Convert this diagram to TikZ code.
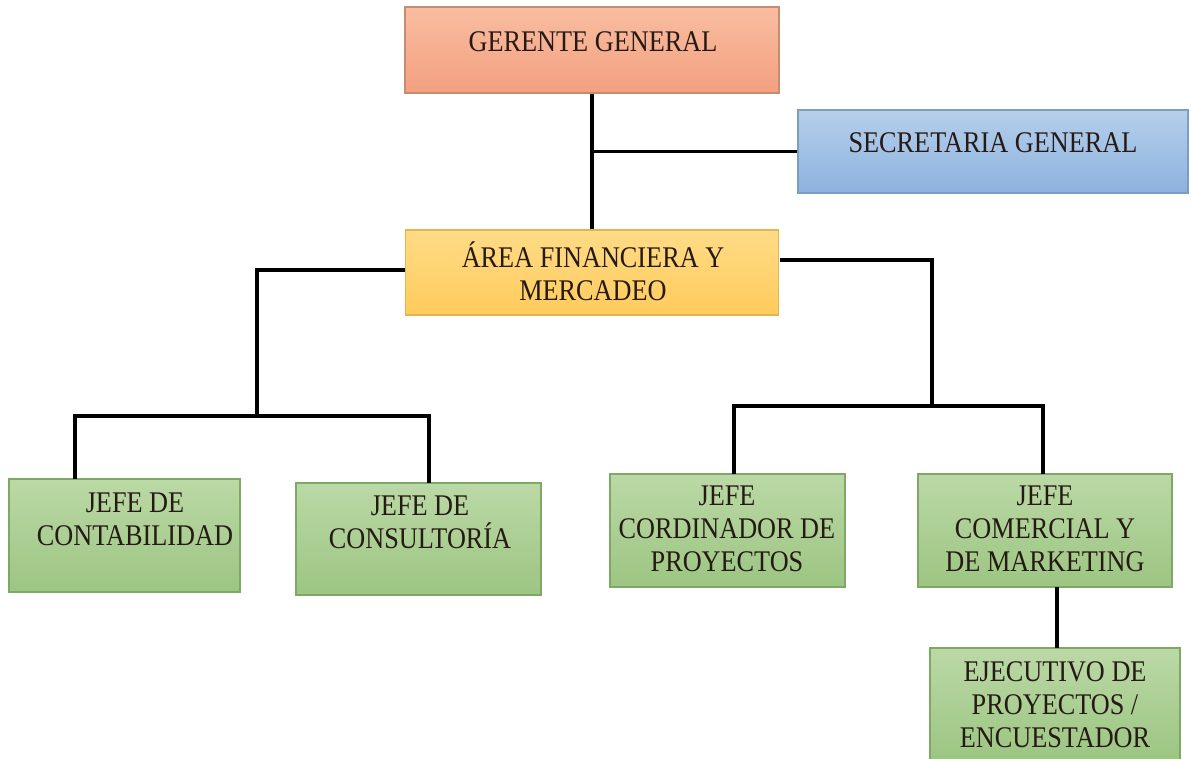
\documentclass[tikz,border=0pt]{standalone}
\usepackage{fontspec}
\setmainfont{Liberation Serif}[FakeStretch=0.875]
\usetikzlibrary{calc}
\definecolor{ggtop}{HTML}{F9BDA1}
\definecolor{ggbot}{HTML}{F3A07F}
\definecolor{ggline}{HTML}{C48C70}
\definecolor{sgtop}{HTML}{B5CFEB}
\definecolor{sgbot}{HTML}{8DB2DE}
\definecolor{sgline}{HTML}{7B9DC8}
\definecolor{aftop}{HTML}{FFDB86}
\definecolor{afbot}{HTML}{FFCB5C}
\definecolor{afline}{HTML}{E3B551}
\definecolor{grtop}{HTML}{BBD9A6}
\definecolor{grbot}{HTML}{9CC582}
\definecolor{grline}{HTML}{7FA866}
\definecolor{txtc}{HTML}{261A14}
\tikzset{
  x=1pt, y=-1pt,
  orgbox/.style={rectangle, inner sep=0pt, line width=1.2pt},
  ggbox/.style={orgbox, draw=ggline, top color=ggtop, bottom color=ggbot},
  sgbox/.style={orgbox, draw=sgline, top color=sgtop, bottom color=sgbot},
  afbox/.style={orgbox, draw=afline, top color=aftop, bottom color=afbot},
  grbox/.style={orgbox, draw=grline, top color=grtop, bottom color=grbot},
  lbl/.style={align=center, text=txtc, inner sep=0pt, font=\fontsize{30}{33}\selectfont},
  conn/.style={draw=black, line width=3.6pt}
}
\begin{document}
\begin{tikzpicture}
\useasboundingbox (0,0) rectangle (1191,758);
\fill[white] (0,0) rectangle (1191,758);
% boxes
\node[ggbox, minimum width=374pt, minimum height=86pt] (gg) at (592,50) {};
\node[sgbox, minimum width=390pt, minimum height=83pt] (sg) at (993,151.5) {};
\node[afbox, minimum width=373pt, minimum height=85pt] (af) at (592,272.5) {};
\node[grbox, minimum width=231pt, minimum height=113pt] (jc) at (124.5,535.5) {};
\node[grbox, minimum width=245pt, minimum height=112pt] (jco) at (418.5,539) {};
\node[grbox, minimum width=235pt, minimum height=113pt] (jp) at (727.5,530.5) {};
\node[grbox, minimum width=254pt, minimum height=113pt] (jm) at (1045,530.5) {};
\node[grbox, minimum width=250pt, minimum height=112pt] (ej) at (1055,704) {};
% labels
\node[lbl] (ggt) at (593,42) {GERENTE GENERAL};
\node[lbl] (sgt) at (993,143) {SECRETARIA GENERAL};
\node[lbl] (aft) at (593,271) {ÁREA FINANCIERA Y\\MERCADEO};
\node[lbl] (jct) at (135,519) {JEFE DE\\CONTABILIDAD};
\node[lbl] (jcot) at (420,522) {JEFE DE\\CONSULTORÍA};
\node[lbl] (jpt) at (727,529) {JEFE\\CORDINADOR DE\\PROYECTOS};
\node[lbl] (jmt) at (1045,529) {JEFE\\COMERCIAL Y\\DE MARKETING};
\node[lbl] (ejt) at (1055,705) {EJECUTIVO DE\\PROYECTOS /\\ENCUESTADOR};
% coordinates
\coordinate (lbus) at (257,416);
\coordinate (jcT) at (75,479);
\coordinate (jcoT) at (429,483);
\coordinate (rR) at (780,260);
\coordinate (rbus) at (932,406);
\coordinate (jpT) at (734,474);
\coordinate (jmT) at (1043,474);
\coordinate (jmB) at (1057,587);
\coordinate (ejT) at (1057,648);
% connectors
\draw[conn] (gg.south) -- (af.north);
\draw[conn] (gg.south |- sg.west) -- (sg.west);
\draw[conn] (af.west |- 0,270) -| (lbus);
\draw[conn] (jcT) |- (lbus) -| (jcoT);
\draw[conn] (rR) -| (rbus);
\draw[conn] (jpT) |- (rbus) -| (jmT);
\draw[conn] (jmB) -- (ejT);
\end{tikzpicture}
\end{document}
